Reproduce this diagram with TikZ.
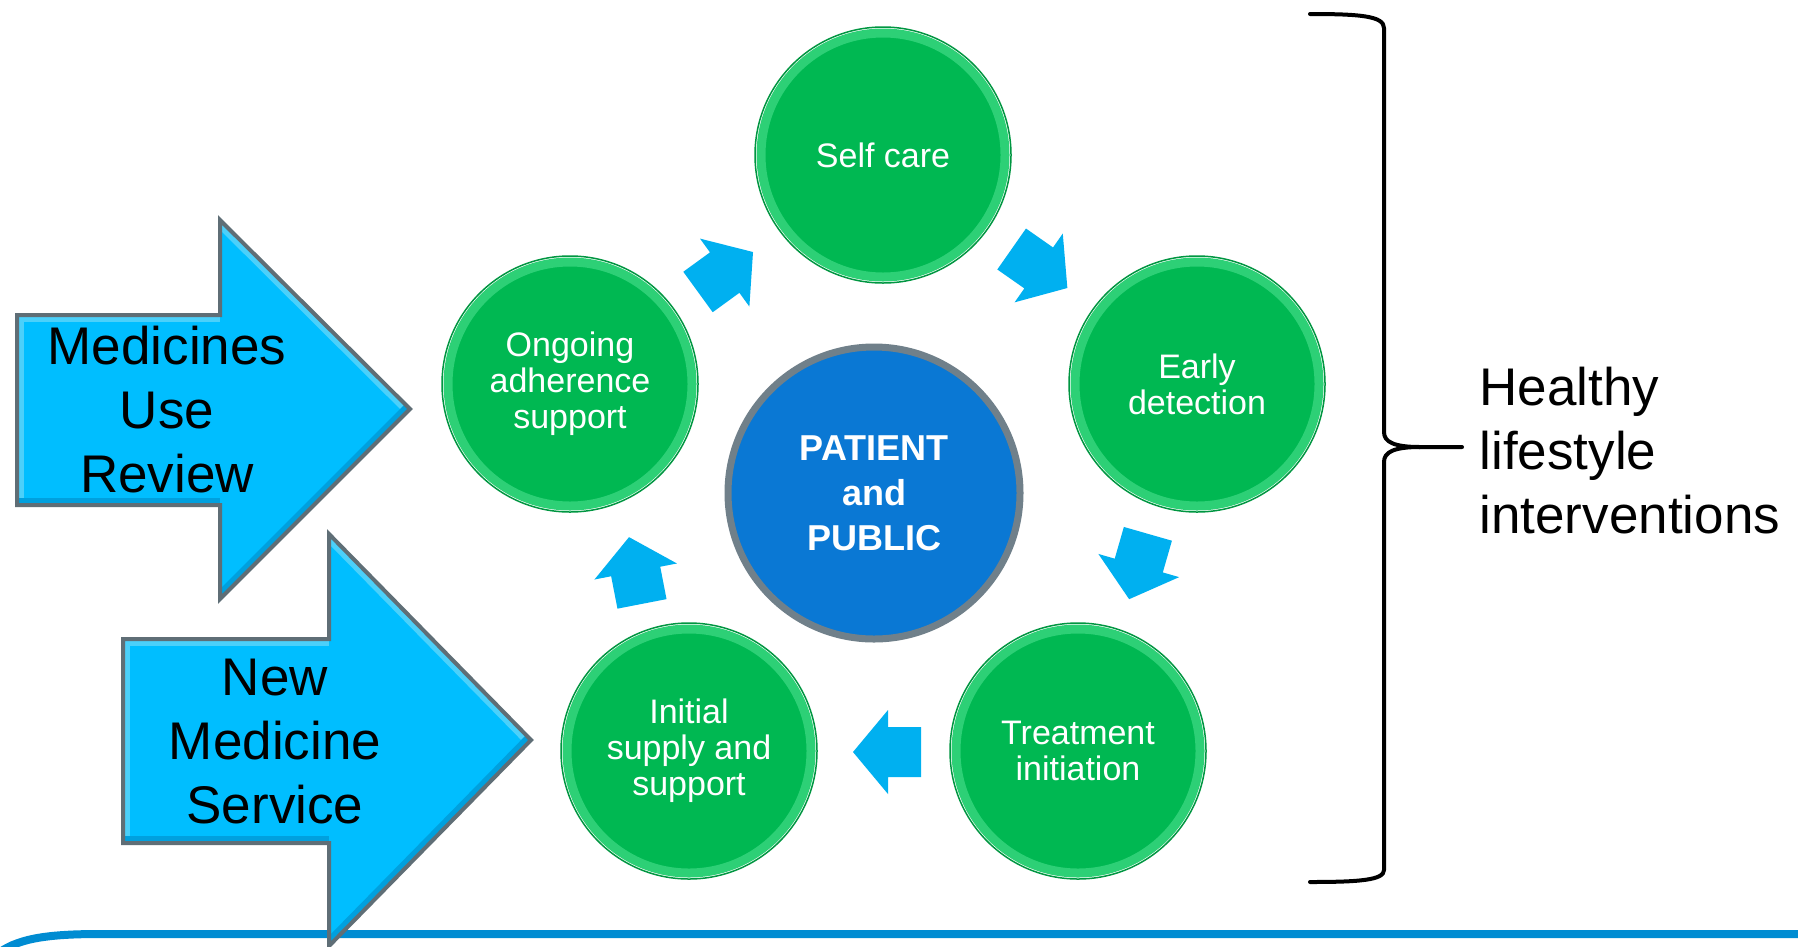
\documentclass[tikz,border=0pt]{standalone}
\usepackage{fontspec}
\setmainfont{Liberation Sans}
\definecolor{bigblue}{RGB}{0,190,255}
\definecolor{bigbluelight}{RGB}{75,208,250}
\definecolor{bigbluedark}{RGB}{0,160,222}
\definecolor{arrowgray}{RGB}{95,110,118}
\definecolor{smallblue}{RGB}{0,176,240}
\definecolor{greenin}{RGB}{0,184,82}
\definecolor{greenrim}{RGB}{45,208,118}
\definecolor{greenedge}{RGB}{0,150,65}
\definecolor{centerblue}{RGB}{10,120,212}
\definecolor{centerrim}{RGB}{112,128,138}
\definecolor{linecol}{RGB}{0,140,210}
\tikzset{
  greencirc/.style={circle, minimum size=244pt, inner sep=0pt, fill=greenin, draw=greenrim, line width=9pt,
    text=white, align=center, font=\fontsize{34}{36}\selectfont},
  centercirc/.style={circle, minimum size=292pt, inner sep=0pt, fill=centerblue, draw=centerrim, line width=7pt,
    text=white, align=center, font=\fontsize{36}{45}\selectfont\bfseries},
  bigfill/.style={fill=bigblue},
  bigline/.style={draw=arrowgray, line width=4pt, line join=miter},
  lightband/.style={draw=bigbluelight, line width=14pt},
  darkband/.style={draw=bigbluedark, line width=14pt},
  bigtext/.style={align=center, text=black, font=\fontsize{53}{64}\selectfont},
  bracestyle/.style={draw=black, line width=4pt, line cap=round, line join=round},
  smallarr/.pic={\fill[smallblue] (-34,-25) -- (-1,-25) -- (-1,-42) -- (34,0) -- (-1,42) -- (-1,25) -- (-34,25) -- cycle;}
}
\begin{document}
\begin{tikzpicture}[x=1pt,y=1pt]
\fill[white] (0,0) rectangle (1798,-946);
\useasboundingbox (0,0) rectangle (1798,-946);

% bottom rule
\draw[linecol, line width=8pt] (0,-952) .. controls (20,-938) and (50,-934) .. (100,-934) -- (1800,-934);

% big arrow 1
\coordinate (a1p1) at (17,-315); \coordinate (a1p2) at (220,-315); \coordinate (a1p3) at (220,-220);
\coordinate (a1t) at (410,-409); \coordinate (a1p5) at (220,-599); \coordinate (a1p6) at (220,-505);
\coordinate (a1p7) at (17,-505);
\fill[bigfill] (a1p1) -- (a1p2) -- (a1p3) -- (a1t) -- (a1p5) -- (a1p6) -- (a1p7) -- cycle;
\begin{scope}
  \clip (a1p1) -- (a1p2) -- (a1p3) -- (a1t) -- (a1p5) -- (a1p6) -- (a1p7) -- cycle;
  \draw[lightband] (a1p7) -- (a1p1) -- (a1p2);
  \draw[lightband] (a1p3) -- (a1t);
  \draw[darkband] (a1t) -- (a1p5);
  \draw[darkband] (a1p6) -- (a1p7);
\end{scope}
\draw[bigline] (a1p1) -- (a1p2) -- (a1p3) -- (a1t) -- (a1p5) -- (a1p6) -- (a1p7) -- cycle;
\node[bigtext] (mur) at (167,-410) {Medicines\\Use\\Review};

% big arrow 2
\coordinate (a2p1) at (123,-639); \coordinate (a2p2) at (329,-639); \coordinate (a2p3) at (329,-534);
\coordinate (a2t) at (531,-740); \coordinate (a2p5) at (329,-946); \coordinate (a2p6) at (329,-843);
\coordinate (a2p7) at (123,-843);
\fill[bigfill] (a2p1) -- (a2p2) -- (a2p3) -- (a2t) -- (a2p5) -- (a2p6) -- (a2p7) -- cycle;
\begin{scope}
  \clip (a2p1) -- (a2p2) -- (a2p3) -- (a2t) -- (a2p5) -- (a2p6) -- (a2p7) -- cycle;
  \draw[lightband] (a2p7) -- (a2p1) -- (a2p2);
  \draw[lightband] (a2p3) -- (a2t);
  \draw[darkband] (a2t) -- (a2p5);
  \draw[darkband] (a2p6) -- (a2p7);
\end{scope}
\draw[bigline] (a2p1) -- (a2p2) -- (a2p3) -- (a2t) -- (a2p5) -- (a2p6) -- (a2p7) -- cycle;
\node[bigtext] (nms) at (275,-742) {New\\Medicine\\Service};

% green circles
\node[greencirc] (self) at (883,-155) {Self care};
\node[greencirc] (ongoing) at (570,-384) {Ongoing\\adherence\\support};
\node[greencirc] (early) at (1197,-384) {Early\\detection};
\node[greencirc] (treat) at (1078,-751) {Treatment\\initiation};
\node[greencirc] (initial) at (689,-751) {Initial\\supply and\\support};
\foreach \n in {self,ongoing,early,treat,initial}{
  \draw[greenedge, line width=1.5pt] (\n.center) circle (128pt);
}

% centre
\node[centercirc] (patient) at (874,-493) {PATIENT\\and\\PUBLIC};

% small arrows
\pic[rotate=36] (s1) at (725.5,-272) {smallarr};
\pic[rotate=-35] (s2) at (1039.5,-268.5) {smallarr};
\pic[rotate=-106] (s3) at (1138.5,-566.5) {smallarr};
\pic[rotate=180] (s4) at (887,-752) {smallarr};
\pic[rotate=101] (s5) at (635.5,-570.5) {smallarr};

% brace
\draw[bracestyle] (1310,-14) .. controls (1360,-14) and (1384,-16) .. (1384,-28) -- (1384,-432)
   .. controls (1384,-442) and (1394,-447) .. (1420,-447) -- (1462,-447);
\draw[bracestyle] (1420,-447) .. controls (1394,-447) and (1384,-452) .. (1384,-462) -- (1384,-870)
   .. controls (1384,-880) and (1360,-882) .. (1310,-882);

\node[anchor=west, align=left, font=\fontsize{53}{64}\selectfont] (healthy) at (1476,-451) {Healthy\\lifestyle\\interventions};
\end{tikzpicture}
\end{document}
